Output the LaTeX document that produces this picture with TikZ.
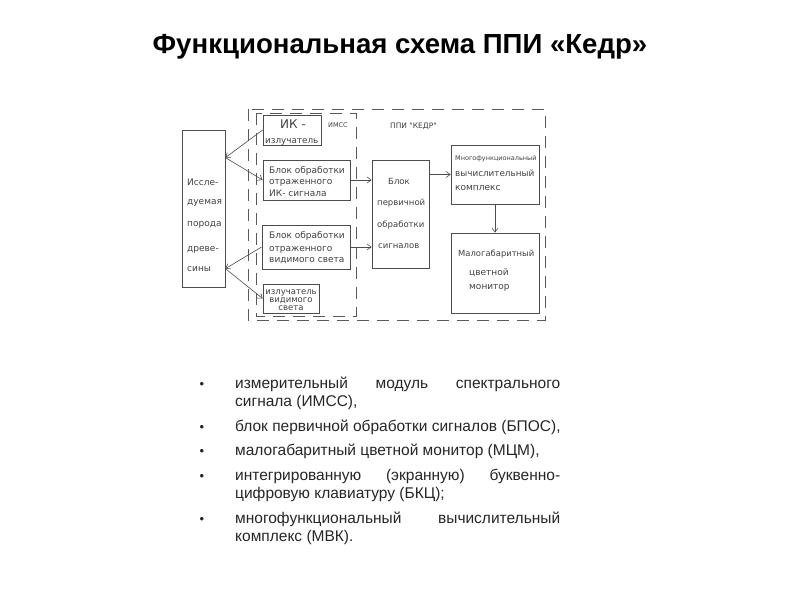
\documentclass[tikz,border=0pt]{standalone}
\usepackage{fontspec}
\setmainfont{Liberation Sans}
\newfontfamily\cad{DejaVu Sans}
\usetikzlibrary{arrows.meta,calc}
\begin{document}
\begin{tikzpicture}[x=1pt,y=-1pt,
  ln/.style={draw=black!70, line width=0.8pt},
  blk/.style={ln, rectangle, inner sep=0pt},
  dsh/.style={draw=black!65, line width=0.8pt, dash pattern=on 12pt off 8pt},
  arr/.style={draw=black!70, line width=0.6pt, -{Straight Barb[length=4pt,width=6pt]}},
  bt/.style={inner sep=0pt, anchor=base west, text=black!75, font=\cad\fontsize{9}{11}\selectfont},
  btc/.style={bt, anchor=base},
  li/.style={inner sep=0pt, anchor=base west, text=black!85, font=\fontsize{15.5}{18}\selectfont},
  bul/.style={inner sep=0pt, anchor=base, text=black!85, font=\fontsize{13}{18}\selectfont},
]
\useasboundingbox (0,0) rectangle (800,600);

% title
\node[inner sep=0pt, anchor=base, font=\bfseries\fontsize{27.6}{30}\selectfont] (title) at (400,53) {Функциональная схема ППИ «Кедр»};

% dashed frames
\draw[dsh] (248,109) rectangle (545,320);
\draw[dsh] (256,113) rectangle (356,316);

% boxes
\node[blk, minimum width=43, minimum height=157] (left) at (203.5,208.5) {};
\node[blk, minimum width=58, minimum height=30] (ik) at (292,130) {};
\node[blk, minimum width=87, minimum height=40] (ikb) at (306.5,180) {};
\node[blk, minimum width=88, minimum height=44] (vis) at (306,247) {};
\node[blk, minimum width=56, minimum height=29] (izv) at (291,298.5) {};
\node[blk, minimum width=57, minimum height=108] (perv) at (400.5,214) {};
\node[blk, minimum width=88, minimum height=59] (mvk) at (495,174.5) {};
\node[blk, minimum width=88, minimum height=80] (mon) at (495,273) {};

% box texts
\node[bt] (t1a) at (187,185) {Иссле-};
\node[bt] (t1b) at (187,204) {дуемая};
\node[bt] (t1c) at (187,226) {порода};
\node[bt] (t1d) at (187,251) {древе-};
\node[bt] (t1e) at (187,271) {сины};

\node[bt, font=\cad\fontsize{12}{14}\selectfont] (t2a) at (280,128) {ИК -};
\node[bt, font=\cad\fontsize{8.8}{10}\selectfont] (t2b) at (265,143) {излучатель};
\node[bt, font=\cad\fontsize{6.5}{8}\selectfont] (imss) at (328,127.5) {ИМСС};
\node[bt, font=\cad\fontsize{7.5}{9}\selectfont] (ppi) at (390,128) {ППИ "КЕДР"};

\node[bt] (t3a) at (269,173) {Блок обработки};
\node[bt] (t3b) at (269,184) {отраженного};
\node[bt] (t3c) at (269,196) {ИК- сигнала};

\node[bt] (t4a) at (269,238) {Блок обработки};
\node[bt] (t4b) at (269,251) {отраженного};
\node[bt] (t4c) at (269,262) {видимого света};

\node[btc, font=\cad\fontsize{8.5}{10}\selectfont] (t5a) at (291,294) {излучатель};
\node[btc, font=\cad\fontsize{8.5}{10}\selectfont] (t5b) at (291,302) {видимого};
\node[btc, font=\cad\fontsize{8.5}{10}\selectfont] (t5c) at (291,310) {света};

\node[bt, font=\cad\fontsize{8.5}{10}\selectfont] (t6a) at (388,184) {Блок};
\node[bt, font=\cad\fontsize{8.5}{10}\selectfont] (t6b) at (377,205) {первичной};
\node[bt, font=\cad\fontsize{8.5}{10}\selectfont] (t6c) at (377,227) {обработки};
\node[bt, font=\cad\fontsize{8.5}{10}\selectfont] (t6d) at (378,248) {сигналов};

\node[bt, font=\cad\fontsize{6.5}{8}\selectfont] (t7a) at (455,160.5) {Многофункциональный};
\node[bt, font=\cad\fontsize{8.8}{10}\selectfont] (t7b) at (455,176) {вычислительный};
\node[bt] (t7c) at (455,190) {комплекс};

\node[bt, font=\cad\fontsize{8.4}{10}\selectfont] (t8a) at (458,256) {Малогабаритный};
\node[bt] (t8b) at (469,275) {цветной};
\node[bt] (t8c) at (469,289) {монитор};

% connectors
\coordinate (L1) at ($(left.north east)+(0,28)$);
\coordinate (L2) at ($(left.north east)+(0,139)$);
\draw[arr] (ik.west) -- (L1);
\draw[arr] (L1) -- (ikb.west);
\draw[arr] (vis.west) -- (L2);
\draw[arr] (L2) -- (izv.west);
\draw[arr] (ikb.east) -- (ikb.east -| perv.west);
\draw[arr] (vis.east) -- (vis.east -| perv.west);
\draw[arr] (mvk.west -| perv.east) -- (mvk.west);
\draw[arr] (mvk.south) -- (mon.north);

% bullet list
\node[bul] (b1) at (202,388) {•};
\node[li] (l1a) at (235,388) {\makebox[325pt][s]{измерительный\hfill модуль\hfill спектрального}};
\node[li] (l1b) at (235,406) {сигнала (ИМСС),};
\node[bul] (b2) at (202,431) {•};
\node[li] (l2a) at (235,431) {блок первичной обработки сигналов (БПОС),};
\node[bul] (b3) at (202,455) {•};
\node[li] (l3a) at (235,455) {малогабаритный цветной монитор (МЦМ),};
\node[bul] (b4) at (202,480) {•};
\node[li] (l4a) at (235,480) {\makebox[325pt][s]{интегрированную\hfill (экранную)\hfill буквенно-}};
\node[li] (l4b) at (235,498) {цифровую клавиатуру (БКЦ);};
\node[bul] (b5) at (202,523) {•};
\node[li] (l5a) at (235,523) {\makebox[325pt][s]{многофункциональный\hfill вычислительный}};
\node[li] (l5b) at (235,541) {комплекс (МВК).};
\end{tikzpicture}
\end{document}
